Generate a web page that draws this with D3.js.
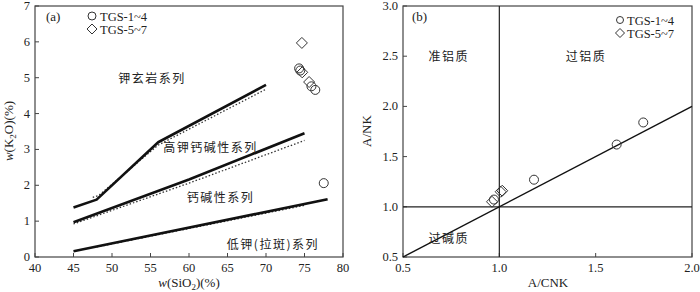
<!DOCTYPE html>
<html><head><meta charset="utf-8">
<script src="https://cdn.jsdelivr.net/npm/d3@7"></script>
<style>
body{margin:0;background:#fff;}
text{font-family:"Liberation Serif","Noto Sans CJK SC",serif;fill:#222;}
.cn{font-family:"Noto Sans CJK SC",sans-serif;}
</style></head>
<body>
<svg id="c" width="700" height="292"></svg>
<script>
// Panel (a) data
const aXTicks = [40,45,50,55,60,65,70,75,80];
const aYTicks = [0,1,2,3,4,5,6,7];
const shoshLine = [[45,1.38],[48,1.6],[56,3.2],[70,4.8]];
const shoshDot = [[47.5,1.66],[48.3,1.72],[56,3.12],[70,4.68]];
const hkLine = [[45,0.97],[60,2.16],[75,3.45]];
const hkDot = [[45,0.92],[60,2.06],[75,3.25]];
const lkLine = [[45,0.16],[78,1.61]];
const lkDot = [[48,0.28],[75,1.44]];
const aCircles = [[74.3,5.26],[74.45,5.2],[75.9,4.76],[76.4,4.66],[77.5,2.06]];
const aDiamonds = [[74.66,5.97],[74.7,5.15],[75.6,4.88]];
const aLabels = [
  {t:"钾玄岩系列", x:55.2, y:4.86},
  {t:"高钾钙碱性系列", x:62.8, y:2.92},
  {t:"钙碱性系列", x:64.1, y:1.53},
  {t:"低钾(拉斑)系列", x:70.9, y:0.22}
];
// Panel (b) data
const bXTicks = [0.5,1.0,1.5,2.0];
const bYTicks = [0.5,1.0,1.5,2.0,2.5,3.0];
const diagLine = [[0.5,0.5],[2.0,2.0]];
const bCircles = [[1.747,1.84],[1.609,1.62],[1.18,1.27],[0.972,1.072]];
const bDiamonds = [[1.007,1.15],[1.015,1.16],[0.962,1.05]];
const bLabels = [
  {t:"准铝质", x:0.737, y:2.454},
  {t:"过铝质", x:1.45, y:2.454},
  {t:"过碱质", x:0.737, y:0.644}
];
const legendNames = ["TGS-1~4","TGS-5~7"];

const svg = d3.select("#c");

function diamond(g, x, y, r){
  g.append("path").attr("d",`M${x},${y-r}L${x+r},${y}L${x},${y+r}L${x-r},${y}Z`)
   .attr("fill","none").attr("stroke","#333").attr("stroke-width",1);
}
function circ(g,x,y,r){
  g.append("circle").attr("cx",x).attr("cy",y).attr("r",r).attr("fill","none").attr("stroke","#333").attr("stroke-width",1);
}

function frame(x, y, xTicks, yTicks, fmtX, fmtY){
  const g = svg.append("g");
  const [x0,x1] = x.range(), [y0,y1] = y.range();
  g.append("rect").attr("x",x0).attr("y",y1).attr("width",x1-x0).attr("height",y0-y1)
    .attr("fill","none").attr("stroke","#444").attr("stroke-width",1.2);
  xTicks.forEach(v=>{
    const px = x(v);
    g.append("line").attr("x1",px).attr("x2",px).attr("y1",y0).attr("y2",y0-4).attr("stroke","#444");
    g.append("text").attr("x",px).attr("y",y0+15).attr("text-anchor","middle").attr("font-size",12.5).text(fmtX(v));
  });
  yTicks.forEach(v=>{
    const py = y(v);
    g.append("line").attr("x1",x0).attr("x2",x0+4).attr("y1",py).attr("y2",py).attr("stroke","#444");
    g.append("text").attr("x",x0-5).attr("y",py+4).attr("text-anchor","end").attr("font-size",12.5).text(fmtY(v));
  });
  return g;
}

// ---------- Panel (a)
const xa = d3.scaleLinear().domain([40,80]).range([35,343]);
const ya = d3.scaleLinear().domain([0,7]).range([257,6]);
const ga = frame(xa, ya, aXTicks, aYTicks, d=>d, d=>d);
const line = d3.line().x(d=>xa(d[0])).y(d=>ya(d[1]));
[shoshDot,hkDot,lkDot].forEach(d=>ga.append("path").attr("d",line(d)).attr("fill","none")
  .attr("stroke","#333").attr("stroke-width",1.3).attr("stroke-dasharray","1.5,2"));
[shoshLine,hkLine,lkLine].forEach(d=>ga.append("path").attr("d",line(d)).attr("fill","none")
  .attr("stroke","#111").attr("stroke-width",2.6).attr("stroke-linejoin","round"));
aCircles.forEach(d=>circ(ga,xa(d[0]),ya(d[1]),4.5));
aDiamonds.forEach(d=>diamond(ga,xa(d[0]),ya(d[1]),5.5));
aLabels.forEach(l=>ga.append("text").attr("class","cn").attr("x",xa(l.x)).attr("y",ya(l.y))
  .attr("text-anchor","middle").attr("font-size",12).attr("letter-spacing",1.5).text(l.t));
ga.append("text").attr("x",46).attr("y",21).attr("font-size",13).text("(a)");
circ(ga,92,16,4); ga.append("text").attr("x",100).attr("y",20.5).attr("font-size",12.5).text(legendNames[0]);
diamond(ga,92,29,5); ga.append("text").attr("x",100).attr("y",33.5).attr("font-size",12.5).text(legendNames[1]);
// axis labels
const xl = ga.append("text").attr("x",189).attr("y",287).attr("text-anchor","middle").attr("font-size",13);
xl.append("tspan").attr("font-style","italic").text("w");
xl.append("tspan").text("(SiO");
xl.append("tspan").attr("font-size",9).attr("dy",3).text("2");
xl.append("tspan").attr("dy",-3).text(")(%)");
const yl = ga.append("text").attr("transform","translate(13,131) rotate(-90)").attr("text-anchor","middle").attr("font-size",13);
yl.append("tspan").attr("font-style","italic").text("w");
yl.append("tspan").text("(K");
yl.append("tspan").attr("font-size",9).attr("dy",3).text("2");
yl.append("tspan").attr("dy",-3).text("O)(%)");

// ---------- Panel (b)
const xb = d3.scaleLinear().domain([0.5,2.0]).range([403,692]);
const yb = d3.scaleLinear().domain([0.5,3.0]).range([257,6]);
const fmt1 = d3.format(".1f");
const gb = frame(xb, yb, bXTicks, bYTicks, fmt1, fmt1);
gb.append("line").attr("x1",xb(1)).attr("x2",xb(1)).attr("y1",yb(0.5)).attr("y2",yb(3)).attr("stroke","#222").attr("stroke-width",1.2);
gb.append("line").attr("x1",xb(0.5)).attr("x2",xb(2)).attr("y1",yb(1)).attr("y2",yb(1)).attr("stroke","#222").attr("stroke-width",1.2);
const lineb = d3.line().x(d=>xb(d[0])).y(d=>yb(d[1]));
gb.append("path").attr("d",lineb(diagLine)).attr("stroke","#111").attr("stroke-width",1.4).attr("fill","none");
bCircles.forEach(d=>circ(gb,xb(d[0]),yb(d[1]),4.5));
bDiamonds.forEach(d=>diamond(gb,xb(d[0]),yb(d[1]),5.5));
bLabels.forEach(l=>gb.append("text").attr("class","cn").attr("x",xb(l.x)).attr("y",yb(l.y))
  .attr("text-anchor","middle").attr("font-size",12).attr("letter-spacing",1.5).text(l.t));
gb.append("text").attr("x",412).attr("y",21).attr("font-size",13).text("(b)");
circ(gb,620,20,3.5); gb.append("text").attr("x",627).attr("y",24.5).attr("font-size",12.5).text(legendNames[0]);
diamond(gb,620,33,4.5); gb.append("text").attr("x",627).attr("y",37.5).attr("font-size",12.5).text(legendNames[1]);
gb.append("text").attr("x",548).attr("y",287).attr("text-anchor","middle").attr("font-size",13).text("A/CNK");
gb.append("text").attr("transform","translate(371,131) rotate(-90)").attr("text-anchor","middle").attr("font-size",13).text("A/NK");
</script>
</body></html>
